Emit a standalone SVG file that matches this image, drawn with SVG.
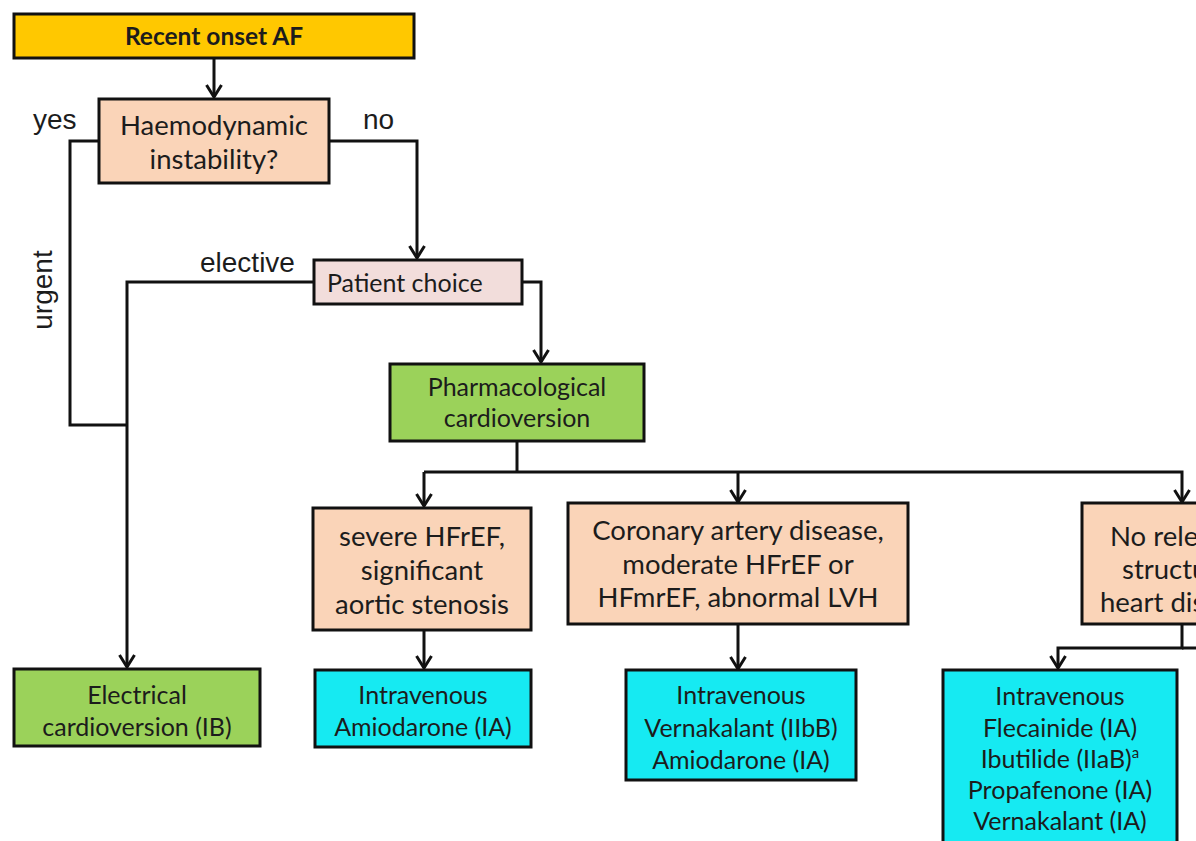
<svg xmlns="http://www.w3.org/2000/svg" width="1196" height="841" viewBox="0 0 1196 841">
  <style>
    .box { stroke: #111; stroke-width: 3; }
    .gold { fill: #FFC800; }
    .peach { fill: #FAD4B8; }
    .pink { fill: #F2DDDB; }
    .green { fill: #9BD25A; }
    .cyan { fill: #16EAF2; }
    .t { font-family: Lato, "Open Sans", sans-serif; fill: #1c1c1c; text-anchor: middle; }
    .big { font-size: 27.5px; }
    .mid { font-size: 25px; }
    .bold { font-weight: bold; font-size: 24.5px; }
    .lab { font-family: "Liberation Sans", Arial, sans-serif; font-size: 28px; fill: #1c1c1c; }
    .conn { fill: none; stroke: #111; stroke-width: 3; }
  </style>
  <defs>
    <marker id="arr" viewBox="-14 -9 16 18" refX="0" refY="0" markerWidth="16" markerHeight="18" markerUnits="userSpaceOnUse" orient="auto">
      <path d="M-12,-7.5 L0,0 L-12,7.5" fill="none" stroke="#111" stroke-width="3"/>
    </marker>
  </defs>
  <rect width="1196" height="841" fill="#ffffff"/>

  <g id="connectors">
    <path class="conn" d="M214,58 V97" marker-end="url(#arr)"/>
    <path class="conn" d="M99,141 H70 V425 H127"/>
    <path class="conn" d="M314,282 H127 V667" marker-end="url(#arr)"/>
    <path class="conn" d="M329,141 H417 V258" marker-end="url(#arr)"/>
    <path class="conn" d="M522,282 H541 V362" marker-end="url(#arr)"/>
    <path class="conn" d="M517,441 V472"/>
    <path class="conn" d="M424,472 H1182 V502" marker-end="url(#arr)"/>
    <path class="conn" d="M424,472 V506" marker-end="url(#arr)"/>
    <path class="conn" d="M738,472 V502" marker-end="url(#arr)"/>
    <path class="conn" d="M424,630 V668" marker-end="url(#arr)"/>
    <path class="conn" d="M738,624 V669" marker-end="url(#arr)"/>
    <path class="conn" d="M1182,624 V648 H1058 V668" marker-end="url(#arr)"/>
    <path class="conn" d="M1182,648 H1200"/>
    <text class="lab" x="33" y="129">yes</text>
    <text class="lab" x="363" y="129">no</text>
    <text class="lab" x="200" y="272">elective</text>
    <text class="lab" text-anchor="middle" transform="translate(52,290) rotate(-90)">urgent</text>
  </g>

  <g id="recent">
    <rect class="box gold" x="14" y="14" width="400" height="44"/>
    <text class="t bold" x="214" y="45">Recent onset AF</text>
  </g>
  <g id="haemo">
    <rect class="box peach" x="99" y="99" width="230" height="84"/>
    <text class="t big" x="214" y="135">Haemodynamic</text>
    <text class="t big" x="214" y="169">instability?</text>
  </g>
  <g id="patient">
    <rect class="box pink" x="314" y="260" width="208" height="44"/>
    <text class="t mid" x="327" y="292" style="text-anchor:start">Patient choice</text>
  </g>
  <g id="pharma">
    <rect class="box green" x="390" y="364" width="254" height="77"/>
    <text class="t mid" x="517" y="396">Pharmacological</text>
    <text class="t mid" x="517" y="427">cardioversion</text>
  </g>
  <g id="severe">
    <rect class="box peach" x="313" y="508" width="218" height="122"/>
    <text class="t big" x="422" y="546">severe HFrEF,</text>
    <text class="t big" x="422" y="580">significant</text>
    <text class="t big" x="422" y="614">aortic stenosis</text>
  </g>
  <g id="coronary">
    <rect class="box peach" x="568" y="503" width="340" height="121"/>
    <text class="t big" x="738" y="540">Coronary artery disease,</text>
    <text class="t big" x="738" y="574">moderate HFrEF or</text>
    <text class="t big" x="738" y="607">HFmrEF, abnormal LVH</text>
  </g>
  <g id="norelevant">
    <rect class="box peach" x="1082" y="503" width="220" height="121"/>
    <text class="t big" x="1110" y="546" style="text-anchor:start">No relevant</text>
    <text class="t big" x="1122" y="579" style="text-anchor:start">structural</text>
    <text class="t big" x="1100" y="612" style="text-anchor:start">heart disease</text>
  </g>
  <g id="electrical">
    <rect class="box green" x="14" y="669" width="246" height="77"/>
    <text class="t mid" x="137" y="704">Electrical</text>
    <text class="t mid" x="137" y="736">cardioversion (IB)</text>
  </g>
  <g id="amio">
    <rect class="box cyan" x="315" y="670" width="216" height="77"/>
    <text class="t mid" x="423" y="704">Intravenous</text>
    <text class="t mid" x="423" y="736">Amiodarone (IA)</text>
  </g>
  <g id="verna">
    <rect class="box cyan" x="626" y="670" width="230" height="110"/>
    <text class="t mid" x="741" y="704">Intravenous</text>
    <text class="t mid" x="741" y="737">Vernakalant (IIbB)</text>
    <text class="t mid" x="741" y="769">Amiodarone (IA)</text>
  </g>
  <g id="fleca">
    <rect class="box cyan" x="943" y="670" width="234" height="190"/>
    <text class="t mid" x="1060" y="705">Intravenous</text>
    <text class="t mid" x="1060" y="737">Flecainide (IA)</text>
    <text class="t mid" x="1060" y="768">Ibutilide (IIaB)<tspan font-size="15" dy="-10">a</tspan></text>
    <text class="t mid" x="1060" y="799">Propafenone (IA)</text>
    <text class="t mid" x="1060" y="830">Vernakalant (IA)</text>
  </g>
</svg>
